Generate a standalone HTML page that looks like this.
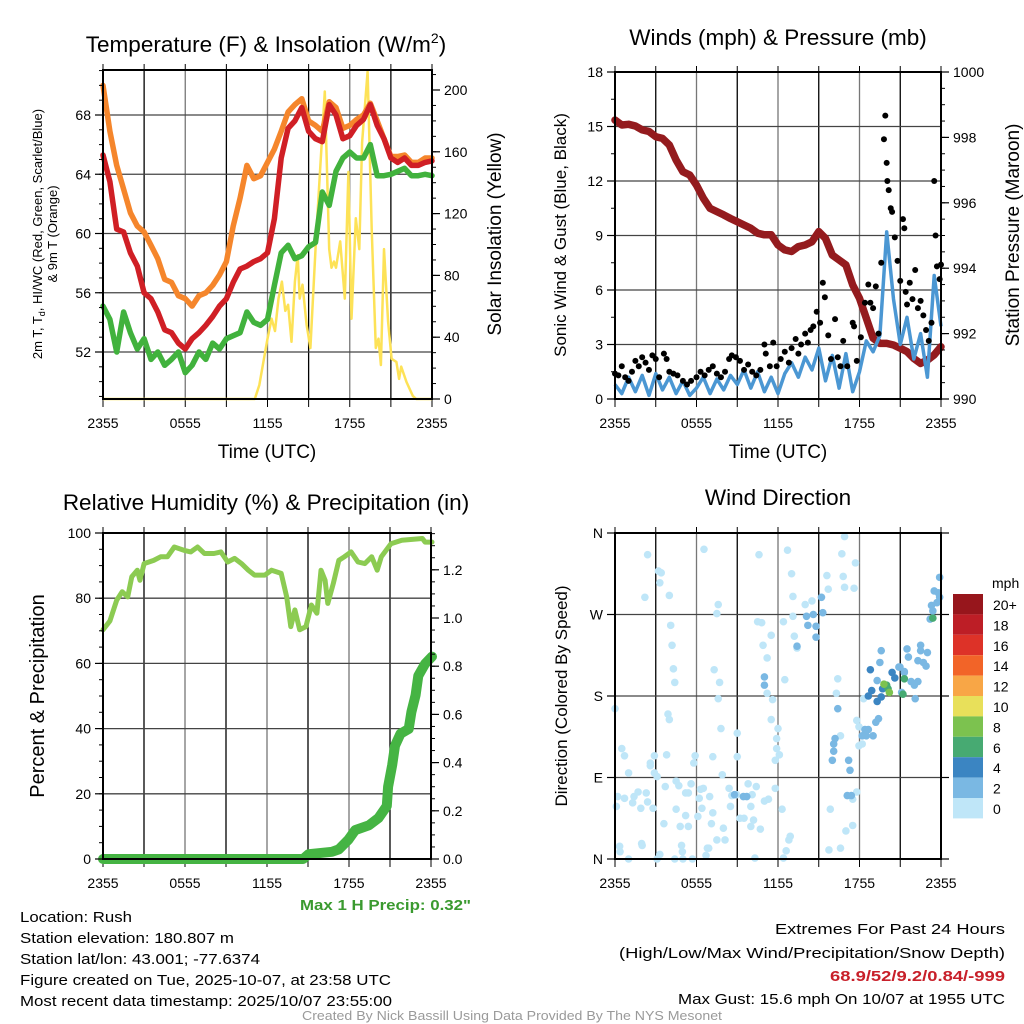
<!DOCTYPE html>
<html><head><meta charset="utf-8"><style>
html,body{margin:0;padding:0;background:#fff;}
svg{display:block;font-family:"Liberation Sans",Arial,sans-serif;}
</style></head><body>
<svg id="chart" width="1024" height="1024" viewBox="0 0 1024 1024" xmlns="http://www.w3.org/2000/svg">
<rect x="0" y="0" width="1024" height="1024" fill="#fff"/>
<g id="layer"></g>
<text x="266" y="52" font-size="22.5" text-anchor="middle">Temperature (F) &amp; Insolation (W/m<tspan font-size="14" dy="-9">2</tspan><tspan dy="9">)</tspan></text>
<text x="778" y="45" font-size="22.5" text-anchor="middle">Winds (mph) &amp; Pressure (mb)</text>
<text x="266" y="510" font-size="22.5" text-anchor="middle">Relative Humidity (%) &amp; Precipitation (in)</text>
<text x="778" y="505" font-size="22.5" text-anchor="middle">Wind Direction</text>

<text transform="translate(42,234) rotate(-90)" font-size="13" text-anchor="middle">2m T, T<tspan font-size="9" dy="3">d</tspan><tspan dy="-3">, HI/WC (Red, Green, Scarlet/Blue)</tspan></text>
<text transform="translate(57,234) rotate(-90)" font-size="13" text-anchor="middle">&amp; 9m T (Orange)</text>
<text transform="translate(501,234) rotate(-90)" font-size="19" text-anchor="middle">Solar Insolation (Yellow)</text>
<text x="267" y="458" font-size="19" text-anchor="middle">Time (UTC)</text>
<text transform="translate(566,235) rotate(-90)" font-size="17" text-anchor="middle">Sonic Wind &amp; Gust (Blue, Black)</text>
<text transform="translate(1019,235) rotate(-90)" font-size="19" text-anchor="middle">Station Pressure (Maroon)</text>
<text x="778" y="458" font-size="19" text-anchor="middle">Time (UTC)</text>
<text transform="translate(44,696) rotate(-90)" font-size="20" text-anchor="middle">Percent &amp; Precipitation</text>
<text transform="translate(567,696) rotate(-90)" font-size="17" text-anchor="middle">Direction (Colored By Speed)</text>
<text x="992" y="588" font-size="14">mph</text>

<text x="471" y="910" font-size="15" font-weight="bold" fill="#3a9a2f" text-anchor="end" textLength="171" lengthAdjust="spacingAndGlyphs">Max 1 H Precip: 0.32"</text>
<g font-size="15">
<text x="20" y="922" textLength="112" lengthAdjust="spacingAndGlyphs">Location: Rush</text>
<text x="20" y="943" textLength="214" lengthAdjust="spacingAndGlyphs">Station elevation: 180.807 m</text>
<text x="20" y="964" textLength="240" lengthAdjust="spacingAndGlyphs">Station lat/lon: 43.001; -77.6374</text>
<text x="20" y="985" textLength="371" lengthAdjust="spacingAndGlyphs">Figure created on Tue, 2025-10-07, at 23:58 UTC</text>
<text x="20" y="1006" textLength="372" lengthAdjust="spacingAndGlyphs">Most recent data timestamp: 2025/10/07 23:55:00</text>
</g>
<g font-size="15" text-anchor="end">
<text x="1005" y="934" textLength="230" lengthAdjust="spacingAndGlyphs">Extremes For Past 24 Hours</text>
<text x="1005" y="958" textLength="386" lengthAdjust="spacingAndGlyphs">(High/Low/Max Wind/Precipitation/Snow Depth)</text>
<text x="1005" y="981" fill="#c8202a" font-weight="bold" textLength="175" lengthAdjust="spacingAndGlyphs">68.9/52/9.2/0.84/-999</text>
<text x="1005" y="1004" textLength="327" lengthAdjust="spacingAndGlyphs">Max Gust: 15.6 mph On 10/07 at 1955 UTC</text>
</g>
<text x="512" y="1020" font-size="12.5" fill="#9a9a9a" text-anchor="middle" textLength="420" lengthAdjust="spacingAndGlyphs">Created By Nick Bassill Using Data Provided By The NYS Mesonet</text>
</svg>
<script>
// ---------- data ----------
const xTickLabels = ["2355","0555","1155","1755","2355"];
const tempTicks = [52,56,60,64,68];
const solarTicks = [0,40,80,120,160,200];
const windTicks = [0,3,6,9,12,15,18];
const presTicks = [990,992,994,996,998,1000];
const rhTicks = [0,20,40,60,80,100];
const precipTicks = [0,0.2,0.4,0.6,0.8,1.0,1.2];
const dirTickLabels = ["N","E","S","W","N"];
const legendLabels = ["20+","18","16","14","12","10","8","6","4","2","0"];
const legendColors = ["#97161c","#bd1e26","#dd3228","#f26428","#f8a646","#e8e05a","#7cc24f","#47aa72","#3b85c2","#7ab8e3","#bfe6f8"];

const tempT = [65.3,63.5,60.3,60.1,58.7,57.8,56.0,55.6,54.7,53.5,53.3,52.6,52.2,52.9,53.3,53.8,54.4,55.1,55.6,56.7,57.6,57.8,58.1,58.3,58.7,61.0,65.1,67.1,67.6,68.5,66.9,66.4,66.2,68.7,68.0,66.4,66.6,67.3,67.7,68.7,67.3,66.4,65.1,64.8,65.1,64.6,64.6,64.8,64.9];
const temp9m = [70.0,66.9,64.6,63.0,61.4,60.5,60.1,59.2,58.3,56.9,56.7,55.8,55.6,55.1,55.8,56.0,56.5,57.2,58.1,60.5,62.4,64.6,63.7,63.9,64.8,65.7,66.9,68.2,68.7,69.1,67.6,67.3,66.9,68.9,68.5,67.1,67.3,67.7,68.0,68.8,67.6,66.4,65.2,65.2,65.3,64.8,64.8,65.1,65.1];
const dewTd = [55.1,54.2,52.0,54.7,53.3,52.2,52.9,51.5,52.0,51.1,51.5,52.0,50.6,51.1,52.0,51.5,52.6,52.2,52.9,53.1,53.3,54.7,54.0,53.8,54.2,56.5,58.7,59.2,58.3,58.5,59.1,59.4,62.8,61.9,64.2,65.1,65.5,65.1,65.1,66.0,63.9,63.9,64.0,64.2,64.4,63.9,63.9,64.0,63.9];
const solarHours = [0,11.07,11.4,12.0,12.3,12.55,12.8,13.05,13.3,13.5,13.75,14.0,14.2,14.35,14.55,14.85,15.13,15.57,16.18,16.5,16.67,16.85,17.0,17.3,17.64,17.9,18.13,18.44,18.7,18.9,19.3,19.6,19.9,20.1,20.27,20.5,20.8,21.05,21.4,21.6,21.75,22.14,22.6,22.85,24];
const solarVals = [0,0,9,39,52,44,65,76,57,61,37,76,93,65,74,48,33,108,199,97,85,89,85,102,65,147,52,117,97,166,212,110,33,39,22,97,50,26,24,13,21,11,2,0,0];

const presVals = [998.53,998.38,998.40,998.35,998.23,998.18,998.02,997.97,997.77,997.31,996.95,996.85,996.54,996.14,995.83,995.73,995.63,995.52,995.42,995.32,995.22,995.07,995.02,995.02,994.71,994.56,994.51,994.66,994.71,994.81,995.12,994.91,994.40,994.25,994.10,993.49,993.08,992.47,991.86,991.70,991.70,991.65,991.55,991.45,991.24,991.09,991.19,991.35,991.60];
const windVals = [0.8,0.3,1.2,0.4,1.3,0.2,1.4,0.5,1.2,0.3,1.0,0.2,0.6,1.2,0.3,1.1,0.5,1.3,0.8,1.6,0.6,1.5,0.4,1.2,0.3,1.4,2.0,1.2,2.3,1.6,2.8,1.0,2.4,0.6,2.5,0.4,1.5,3.2,2.6,3.5,9.2,5.5,3.0,4.5,2.2,3.6,1.2,6.8,4.0];
const gustHours = [0,0.25,0.5,0.75,1,1.25,1.5,1.75,2,2.25,2.5,2.75,3,3.25,3.6,3.8,4,4.3,4.6,5,5.3,5.6,6,6.3,6.6,6.9,7.2,7.5,7.8,8.1,8.4,8.6,8.9,9.2,9.5,9.8,10.1,10.4,10.7,11.0,11.1,11.4,11.65,11.9,12.2,12.5,12.8,13.0,13.3,13.5,13.7,14.0,14.2,14.4,14.6,14.85,15.1,15.3,15.45,15.7,15.9,16.2,16.4,16.6,16.8,17.1,17.5,17.6,17.8,18.1,18.4,18.65,18.8,19.0,19.2,19.4,19.6,19.8,19.9,20.0,20.05,20.15,20.3,20.4,20.6,20.8,21.0,21.2,21.3,21.4,21.5,21.7,21.9,22.1,22.3,22.5,22.7,22.9,23.1,23.3,23.5,23.6,23.7,23.9,24.0];
const gustVals = [1.4,1.3,1.8,1.2,1.0,1.5,2.1,1.8,2.3,2.0,1.6,2.4,2.2,1.2,2.5,2.2,1.5,1.4,1.3,1.0,0.8,1.0,1.2,1.5,1.3,1.6,1.8,1.4,1.2,1.5,2.2,2.4,2.3,2.1,1.6,1.9,1.5,1.3,1.6,3.0,2.5,1.8,3.1,1.8,2.2,2.6,2.0,2.8,3.3,2.5,3.0,3.6,3.1,3.8,4.0,4.8,4.2,6.4,5.6,3.5,2.2,4.4,2.3,1.8,3.2,1.8,4.2,4.0,2.1,3.4,5.3,6.3,5.3,5.0,6.2,3.6,7.5,14.3,15.6,13.0,12.0,11.5,10.5,10.3,8.9,7.6,6.5,9.9,9.4,5.9,5.2,6.4,5.5,7.1,5.0,5.4,4.6,3.8,3.2,4.2,12.0,9.0,7.3,6.6,7.4];

const rhHours = [0,0.5,1,1.4,1.8,2.1,2.5,2.7,3,3.7,4.2,4.7,5.2,5.9,6.4,6.9,7.4,8.1,8.6,9.1,9.6,10.1,10.6,11.05,11.8,12.3,13,13.4,13.7,14,14.35,14.8,15.2,15.6,15.9,16.2,16.4,16.8,17.2,17.6,18.1,18.6,19.1,19.6,20,20.3,21,21.8,23.3,23.5,24];
const rhVals = [70.3,73,79.4,82,80.4,86.6,88.6,85.5,90.6,91.6,92.7,92.7,95.7,94.7,94.2,95.7,93.7,93.7,94.2,91.1,92.2,90.6,88.6,87.1,87.1,88.6,87.6,80.4,71.3,76.4,70.3,71.3,77.9,75.4,88.6,85.5,78.4,84.5,91.6,92.7,94.2,91.1,90.6,92.7,88.6,92.7,96.7,97.8,98.3,97.2,97.2];
const precipHours = [0,14.6,15,16.7,17.2,17.9,18.4,19.4,20.1,20.7,20.8,21.1,21.3,21.7,22.3,22.5,22.8,23.0,23.5,24];
const precipVals = [0,0,0.02,0.03,0.04,0.08,0.12,0.14,0.17,0.22,0.30,0.39,0.47,0.52,0.54,0.61,0.68,0.76,0.81,0.84];

const dirHours = [2.4,3.2,3.4,3.3,2.2,4.0,6.55,4.1,4.2,4.3,4.4,7.6,7.5,10.6,12.7,16.9,16.7,17.7,15.6,16.8,13.0,15.7,16.9,17.6,13.1,10.5,10.8,12.4,13.1,11.5,10.9,11.2,13.2,13.4,12.5,16.4,16.3,11.2,11.6,7.3,7.7,7.6,0,3.9,4.0,7.8,9.0,9.0,11.5,12.0,11.9,11.9,12.1,11.8,0.5,0.7,2.9,2.6,2.6,1.0,2.9,3.1,3.8,5.9,5.8,7.2,7.9,0.2,0.7,0.1,1.4,1.7,2.3,1.3,1.9,2.4,2.8,3.7,4.5,4.7,5.6,5.2,5.4,6.3,6.5,6.2,6.97,6.4,7.2,4.5,5.2,6.1,7.1,3.6,4.8,5.4,7.98,8.1,6.9,8.4,8.6,8.5,8.96,9.8,10.4,10.1,10.0,11.0,11.3,11.8,12.3,9.2,9.5,10.2,10.0,10.7,12.9,12.8,0.34,0.37,1.96,2.0,3.3,4.9,4.96,6.8,6.7,7.5,1.0,3.1,4.4,5.0,5.7,10.3,12.4,12.6,15.75,16.6,17.0,17.5,15.85,17.8,17.5,17.8,17.96,16.6,18.2,17.96,18.3,
14.0,14.5,14.1,14.6,15.2,15.3,14.2,14.8,14.8,13.4,11.0,11.0,8.8,9.45,9.7,16.2,16.1,16.1,16.0,17.2,17.3,17.1,17.4,16.4,18.4,18.65,18.5,19.0,19.2,19.4,18.2,19.5,19.6,19.3,21.5,21.6,22.5,22.5,22.7,22.9,23.0,22.3,21.8,22.04,22.3,22.1,21.1,21.3,20.98,23.3,23.4,23.5,23.8,23.9,23.9,23.7,23.2,
20.9,21.3,18.9,19.7,18.8,18.65,19.3,19.6,
20.4,20.6,21.3,21.2,23.4,20.0,20.1,20.2,19.8];
const dirVals = [336,318,316,305,289,291,342,258,236,210,195,281,271,336,341,356,337,327,313,312,315,298,300,299,290,262,261,262,268,247,236,222,246,233,198,199,183,183,176,209,195,177,166,160,154,144,139,113,154,144,133,122,115,109,122,114,114,106,103,95,95,91,115,114,106,113,93,69,67,58,69,74,73,62,56,63,56,80,86,81,83,73,73,77,78,67,69,56,51,55,48,47,39,39,36,36,34,21,12,78,70,58,71,83,80,71,58,64,66,78,55,45,45,43,36,33,25,21,14,8,17,15,5,15,8,12,4,21,0,0,0,0,0,1,1,9,10,12,31,37,55,74,66,153,146,136,127,125,177,
281,285,268,270,289,272,258,245,257,235,201,192,71,69,69,133,127,119,109,109,98,70,70,166,143,143,136,136,151,155,136,
217,230,197,232,223,236,230,217,213,228,219,196,192,196,177,184,206,212,280,274,296,294,311,289,283,265,
212,207,186,188,209,180,174,179,
206,200,199,182,266,192,188,184,193];
const dirSpeeds = [1,1,1,1,1,1,1,1,1,1,1,1,1,1,1,1,1,1,1,1,1,1,1,1,1,1,1,1,1,1,1,1,1,1,1,1,1,1,1,1,1,1,1,1,1,1,1,1,1,1,1,1,1,1,1,1,1,1,1,1,1,1,1,1,1,1,1,1,1,1,1,1,1,1,1,1,1,1,1,1,1,1,1,1,1,1,1,1,1,1,1,1,1,1,1,1,1,1,1,1,1,1,1,1,1,1,1,1,1,1,1,1,1,1,1,1,1,1,1,1,1,1,1,1,1,1,1,1,1,1,1,1,1,1,1,1,1,1,1,1,1,1,1,1,1,1,1,1,1,1,1,
3,3,3,3,3,3,3,3,3,3,3,3,3,3,3,3,3,3,3,3,3,3,3,3,3,3,3,3,3,3,3,
3,3,3,3,3,3,3,3,3,3,3,3,3,3,3,3,3,3,3,3,3,3,3,3,3,3,
4.5,4.5,4.5,4.5,4.5,4.5,4.5,4.5,
6.5,6.5,6.5,6.5,6.5,8,8,8,8];

// ---------- helpers ----------
const NS = "http://www.w3.org/2000/svg";
const layer = document.getElementById("layer");
function mk(tag, attrs, parent) {
  const el = document.createElementNS(NS, tag);
  for (const k in attrs) el.setAttribute(k, attrs[k]);
  (parent || layer).appendChild(el);
  return el;
}
function grp(name) {
  const g = mk("g", {});
  
  
  return g;
}
function lin(d0, d1, r0, r1) { return v => r0 + (v - d0) / (d1 - d0) * (r1 - r0); }
function pathFrom(xs, ys) { return xs.map((x, i) => (i ? "L" : "M") + x.toFixed(1) + "," + ys[i].toFixed(1)).join(""); }
function speedColor(s) {
  const idx = Math.min(10, Math.floor(s / 2 + 0.0001));
  return legendColors[10 - idx];
}
const halfHours = tempT.map((_, i) => i * 0.5);

const L = {x0:103, x1:432, y0:70, y1:399};
const R = {x0:615, x1:941, y0:72, y1:399};
const L2 = {x0:103, x1:431, y0:533, y1:859};
const R2 = {x0:615, x1:941, y0:533, y1:859};

function frame(P, name, vgrid, hgridYs) {
  const g = grp(name);
  for (let i = 1; i < 8; i++) {
    const x = P.x0 + (P.x1 - P.x0) * i / 8;
    const ln = mk("line", {x1:x, x2:x, y1:P.y0, y2:P.y1, stroke: i % 2 ? "#000" : "#777", "stroke-width":1.3}, g);
    
    
  }
  hgridYs.forEach(y => {
    const ln = mk("line", {x1:P.x0, x2:P.x1, y1:y, y2:y, stroke:"#444", "stroke-width":1.3}, g);
    
    
  });
  for (let i = 0; i <= 8; i++) {
    const x = P.x0 + (P.x1 - P.x0) * i / 8;
    const t1 = mk("line", {x1:x, x2:x, y1:P.y0, y2:P.y0 - 6, stroke:"#000", "stroke-width":1}, g);
    
    
    const t2 = mk("line", {x1:x, x2:x, y1:P.y1, y2:P.y1 + 8, stroke:"#000", "stroke-width":1}, g);
    
    
  }
  xTickLabels.forEach((lab, i) => {
    const x = P.x0 + (P.x1 - P.x0) * i / 4;
    const t = mk("text", {x:x, y:P.y1 + 29, "font-size":14, "text-anchor":"middle"}, g);
    t.textContent = lab;
    
    
  });
  return g;
}
function border(P, name) {
  const r = mk("rect", {x:P.x0, y:P.y0, width:P.x1 - P.x0, height:P.y1 - P.y0, fill:"none", stroke:"#000", "stroke-width":2});
  
  
}
function yAxis(P, side, ticks, scale, fmt, minorStep, minorFrom, minorTo, name) {
  const g = grp(name);
  const x = side === "l" ? P.x0 : P.x1;
  const dir = side === "l" ? -1 : 1;
  ticks.forEach(v => {
    const y = scale(v);
    const t = mk("line", {x1:x, x2:x + dir * 8, y1:y, y2:y, stroke:"#000", "stroke-width":1.2}, g);
    
    
    const lb = mk("text", {x:x + dir * 12, y:y + 5, "font-size":14, "text-anchor": side === "l" ? "end" : "start"}, g);
    lb.textContent = fmt(v);
    
    
  });
  for (let v = minorFrom; v <= minorTo + 1e-9; v += minorStep) {
    const y = scale(v);
    if (y < P.y0 - 0.5 || y > P.y1 + 0.5) continue;
    const t = mk("line", {x1:x, x2:x + dir * 4, y1:y, y2:y, stroke:"#000", "stroke-width":1}, g);
    
    
  }
}

// ---------- Panel 1 ----------
const xL = lin(0, 24, L.x0, L.x1);
const yT = lin(52, 68, 352, 115);
const yS = lin(0, 200, 399, 90);
frame(L, "temp-plot-grid", true, tempTicks.map(yT));
{
  const g = grp("temp-series");
  const ys = mk("path", {d: pathFrom(solarHours.map(xL), solarVals.map(yS)), fill:"none", stroke:"#fde257", "stroke-width":2.5, "stroke-linejoin":"round"}, g);
  
  
  const o = mk("path", {d: pathFrom(halfHours.map(xL), temp9m.map(yT)), fill:"none", stroke:"#f5862c", "stroke-width":5.5, "stroke-linejoin":"round", "stroke-linecap":"round"}, g);
  
  
  const gr = mk("path", {d: pathFrom(halfHours.map(xL), dewTd.map(yT)), fill:"none", stroke:"#41b23d", "stroke-width":5.5, "stroke-linejoin":"round", "stroke-linecap":"round"}, g);
  
  
  const r = mk("path", {d: pathFrom(halfHours.map(xL), tempT.map(yT)), fill:"none", stroke:"#d01f25", "stroke-width":5.5, "stroke-linejoin":"round", "stroke-linecap":"round"}, g);
  
  
}
border(L, "temp-plot-border");
yAxis(L, "l", tempTicks, yT, v => String(v), 1, 49, 71, "temp-y-axis");
yAxis(L, "r", solarTicks, yS, v => String(v), 10, 0, 210, "solar-y-axis");

// ---------- Panel 2 ----------
const xR = lin(0, 24, R.x0, R.x1);
const yW = lin(0, 18, 399, 72);
const yP = lin(990, 1000, 399, 72);
frame(R, "wind-plot-grid", true, windTicks.slice(1, -1).map(yW));
{
  const g = grp("wind-series");
  const p = mk("path", {d: pathFrom(halfHours.map(xR), presVals.map(yP)), fill:"none", stroke:"#941b1e", "stroke-width":7.5, "stroke-linejoin":"round", "stroke-linecap":"round"}, g);
  
  
  const w = mk("path", {d: pathFrom(halfHours.map(xR), windVals.map(yW)), fill:"none", stroke:"#4b97d3", "stroke-width":3.5, "stroke-linejoin":"round"}, g);
  
  
  gustHours.forEach((h, i) => {
    const c = mk("circle", {cx: xR(h), cy: yW(gustVals[i]), r: 3, fill:"#000"}, g);
    
    
  });
}
border(R, "wind-plot-border");
yAxis(R, "l", windTicks, yW, v => String(v), 1.5, 0, 18, "wind-y-axis");
yAxis(R, "r", presTicks, yP, v => String(v), 0.5, 990, 1000, "pressure-y-axis");

// ---------- Panel 3 ----------
const yR = lin(0, 100, 859, 533);
const yPr = lin(0, 1, 859, 618);
frame(L2, "rh-plot-grid", true, [20,40,60,80].map(yR));
{
  const g = grp("rh-series");
  const rh = mk("path", {d: pathFrom(rhHours.map(xL), rhVals.map(yR)), fill:"none", stroke:"#8ccb52", "stroke-width":5, "stroke-linejoin":"round", "stroke-linecap":"round"}, g);
  
  
  const pr = mk("path", {d: pathFrom(precipHours.map(xL), precipVals.map(yPr)), fill:"none", stroke:"#45b443", "stroke-width":10, "stroke-linejoin":"round", "stroke-linecap":"round"}, g);
  
  
}
border(L2, "rh-plot-border");
yAxis(L2, "l", rhTicks, yR, v => String(v), 5, 0, 100, "rh-y-axis");
yAxis(L2, "r", precipTicks, yPr, v => v.toFixed(1), 0.05, 0, 1.35, "precip-y-axis");

// ---------- Panel 4 ----------
const yD = lin(0, 360, 859, 533);
frame(R2, "dir-plot-grid", true, [90,180,270].map(yD));
{
  const g = grp("wind-dir-points");
  const order = dirHours.map((_, i) => i).sort((a, b) => dirSpeeds[a] - dirSpeeds[b]);
  order.forEach(i => {
    const c = mk("circle", {cx: xR(dirHours[i]), cy: yD(dirVals[i]), r: 3.8, fill: speedColor(dirSpeeds[i])}, g);
    
    
  });
}
border(R2, "dir-plot-border");
{
  const g = grp("dir-y-axis");
  dirTickLabels.forEach((lab, i) => {
    const y = yD(i * 90);
    const t = mk("line", {x1:R2.x0, x2:R2.x0 - 8, y1:y, y2:y, stroke:"#000", "stroke-width":1.2}, g);
    
    
    const t2 = mk("line", {x1:R2.x1, x2:R2.x1 + 8, y1:y, y2:y, stroke:"#000", "stroke-width":1.2}, g);
    
    
    const lb = mk("text", {x:R2.x0 - 12, y:y + 5, "font-size":14, "text-anchor":"end"}, g);
    lb.textContent = lab;
    
    
  });
}
{
  const g = grp("speed-legend");
  legendColors.forEach((c, i) => {
    const r = mk("rect", {x:953, y:594 + i * 20.4, width:30, height:20.4, fill:c}, g);
    
    
    const t = mk("text", {x:993, y:594 + i * 20.4 + 16, "font-size":14}, g);
    t.textContent = legendLabels[i];
    
    
  });
}
</script>
</body></html>
